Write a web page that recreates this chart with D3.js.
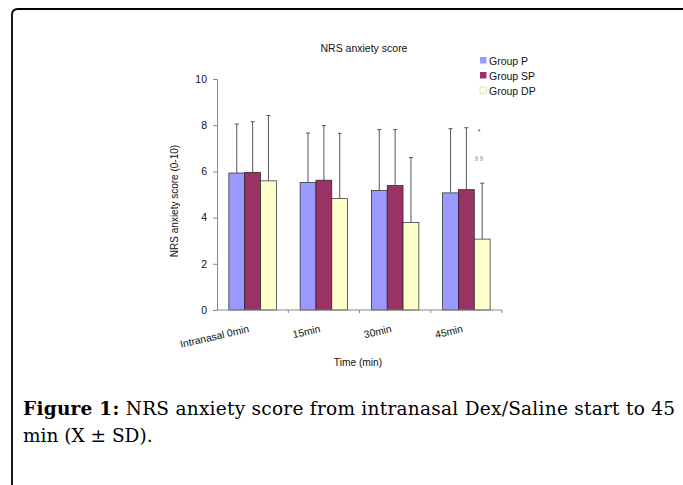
<!DOCTYPE html>
<html>
<head>
<meta charset="utf-8">
<script src="https://cdn.jsdelivr.net/npm/d3@7"></script>
<style>
  body { margin: 0; background: #fff; }
  svg text { font-family: "Liberation Sans", Arial, sans-serif; }
</style>
</head>
<body>
<div id="chart"></div>
<script>
const WIDTH = 683, HEIGHT = 485;

// data
const categories = ["Intranasal 0min", "15min", "30min", "45min"];
const groups = ["Group P", "Group SP", "Group DP"];
const colors = ["#9999FF", "#993366", "#FFFFCC"];
const meanP  = [5.93, 5.52, 5.17, 5.07];
const meanSP = [5.96, 5.62, 5.39, 5.21];
const meanDP = [5.59, 4.82, 3.79, 3.07];
const sdP  = [2.12, 2.14, 2.64, 2.78];
const sdSP = [2.19, 2.36, 2.42, 2.68];
const sdDP = [2.83, 2.83, 2.81, 2.42];
const yTicks = [0, 2, 4, 6, 8, 10];

const means = [meanP, meanSP, meanDP];
const sds = [sdP, sdSP, sdDP];

let svg = d3.select("#chart").append("svg")
    .attr("width", WIDTH)
    .attr("height", HEIGHT);

// frame (top + left, rounded corner)
svg.append("path")
    .attr("d", "M12,485 L12,15 Q12,9 18,9 L683,9")
    .attr("fill", "none")
    .attr("stroke", "#000")
    .attr("stroke-width", 1.8);

// plot area
let plot = {left: 217, right: 502, top: 79, bottom: 310};

let y = d3.scaleLinear()
    .domain([0, 10])
    .range([plot.bottom, plot.top]);

let x0 = d3.scaleBand()
    .domain(categories)
    .range([plot.left, plot.right]);

let bw = x0.bandwidth() / 4.5;
let x1 = d3.scaleBand()
    .domain(groups)
    .range([0, bw * 3]);
let groupOffset = (x0.bandwidth() - bw * 3) / 2;

// flatten into one row per bar
let rows = [];
categories.forEach(function(c, i) {
    groups.forEach(function(g, j) {
        rows.push({cat: c, group: g, color: colors[j], mean: means[j][i], sd: sds[j][i]});
    });
});

let g = svg.append("g");

// bars
g.selectAll("rect.bar").data(rows).enter()
    .append("rect")
    .attr("class", "bar")
    .attr("x", d => x0(d.cat) + groupOffset + x1(d.group))
    .attr("y", d => y(d.mean))
    .attr("width", bw)
    .attr("height", d => y(0) - y(d.mean))
    .attr("fill", d => d.color)
    .attr("stroke", "#222")
    .attr("stroke-width", 0.7);

// upper error bars
let eb = g.selectAll("g.err").data(rows).enter()
    .append("g")
    .attr("class", "err")
    .attr("transform", d => `translate(${x0(d.cat) + groupOffset + x1(d.group) + bw / 2},0)`);
eb.append("line")
    .attr("x1", 0).attr("x2", 0)
    .attr("y1", d => y(d.mean))
    .attr("y2", d => y(d.mean + d.sd))
    .attr("stroke", "#555")
    .attr("stroke-width", 1);
eb.append("line")
    .attr("x1", -2).attr("x2", 2)
    .attr("y1", d => y(d.mean + d.sd))
    .attr("y2", d => y(d.mean + d.sd))
    .attr("stroke", "#555")
    .attr("stroke-width", 1);

// y axis
let yAxis = svg.append("g")
    .attr("transform", `translate(${plot.left},0)`)
    .call(d3.axisLeft(y).tickValues(yTicks).tickSize(4).tickPadding(6));
yAxis.select(".domain").attr("stroke", "#888");
yAxis.selectAll(".tick line").attr("stroke", "#888");
yAxis.selectAll(".tick text").attr("font-size", 10.5).attr("fill", "#111")
    .attr("font-family", "Liberation Sans, Arial, sans-serif");

// x axis
let xAxis = svg.append("g")
    .attr("transform", `translate(0,${plot.bottom})`);
xAxis.append("line")
    .attr("x1", plot.left).attr("x2", plot.right)
    .attr("y1", 0).attr("y2", 0)
    .attr("stroke", "#888");
xAxis.selectAll("line.tk").data(categories.slice(1)).enter()
    .append("line")
    .attr("class", "tk")
    .attr("x1", d => x0(d)).attr("x2", d => x0(d))
    .attr("y1", 0).attr("y2", 3)
    .attr("stroke", "#888");
xAxis.append("line")
    .attr("x1", plot.right).attr("x2", plot.right)
    .attr("y1", 0).attr("y2", 3)
    .attr("stroke", "#888");
xAxis.selectAll("text").data(categories).enter()
    .append("text")
    .attr("transform", d => `translate(${x0(d) + x0.bandwidth() / 2 - 3},22) rotate(-13)`)
    .attr("text-anchor", "end")
    .attr("font-size", 10.3)
    .attr("fill", "#111")
    .text(d => d);

// title and axis titles
svg.append("text")
    .attr("x", 364).attr("y", 52)
    .attr("text-anchor", "middle")
    .attr("font-size", 10.5)
    .attr("fill", "#111")
    .text("NRS anxiety score");

svg.append("text")
    .attr("x", 358).attr("y", 366)
    .attr("text-anchor", "middle")
    .attr("font-size", 10.2)
    .attr("fill", "#111")
    .text("Time (min)");

svg.append("text")
    .attr("transform", "translate(178,201) rotate(-90)")
    .attr("text-anchor", "middle")
    .attr("font-size", 10)
    .attr("fill", "#111")
    .text("NRS anxiety score (0-10)");

// significance markers
svg.append("text")
    .attr("x", 479).attr("y", 134)
    .attr("text-anchor", "middle")
    .attr("font-size", 7)
    .attr("fill", "#2a3a8a")
    .text("*");
svg.append("text")
    .attr("x", 479).attr("y", 160)
    .attr("text-anchor", "middle")
    .attr("font-size", 6)
    .attr("fill", "#888")
    .text("§ §");

// legend
let legend = svg.append("g");
let items = legend.selectAll("g").data(groups).enter()
    .append("g")
    .attr("transform", (d, i) => `translate(480,${57 + i * 15})`);
items.append("rect")
    .attr("width", 6.5).attr("height", 6.5)
    .attr("fill", (d, i) => colors[i])
    .attr("stroke", (d, i) => i == 2 ? "#ccc" : "none")
    .attr("stroke-width", 0.6);
items.append("text")
    .attr("x", 9).attr("y", 7.5)
    .attr("font-size", 10.5)
    .attr("fill", "#111")
    .text(d => d);

// caption
let capFont = "'DejaVu Serif', 'Liberation Serif', serif";
let cap1 = svg.append("text")
    .attr("x", 23).attr("y", 415)
    .attr("font-size", 18.5)
    .attr("textLength", 652)
    .attr("lengthAdjust", "spacing")
    .style("font-family", capFont);
cap1.append("tspan").attr("font-weight", "bold").text("Figure 1:");
cap1.append("tspan").text(" NRS anxiety score from intranasal Dex/Saline start to 45");

svg.append("text")
    .attr("x", 23).attr("y", 442)
    .attr("font-size", 18.5)
    .style("font-family", capFont)
    .text("min (X ± SD).");
</script>
</body>
</html>
